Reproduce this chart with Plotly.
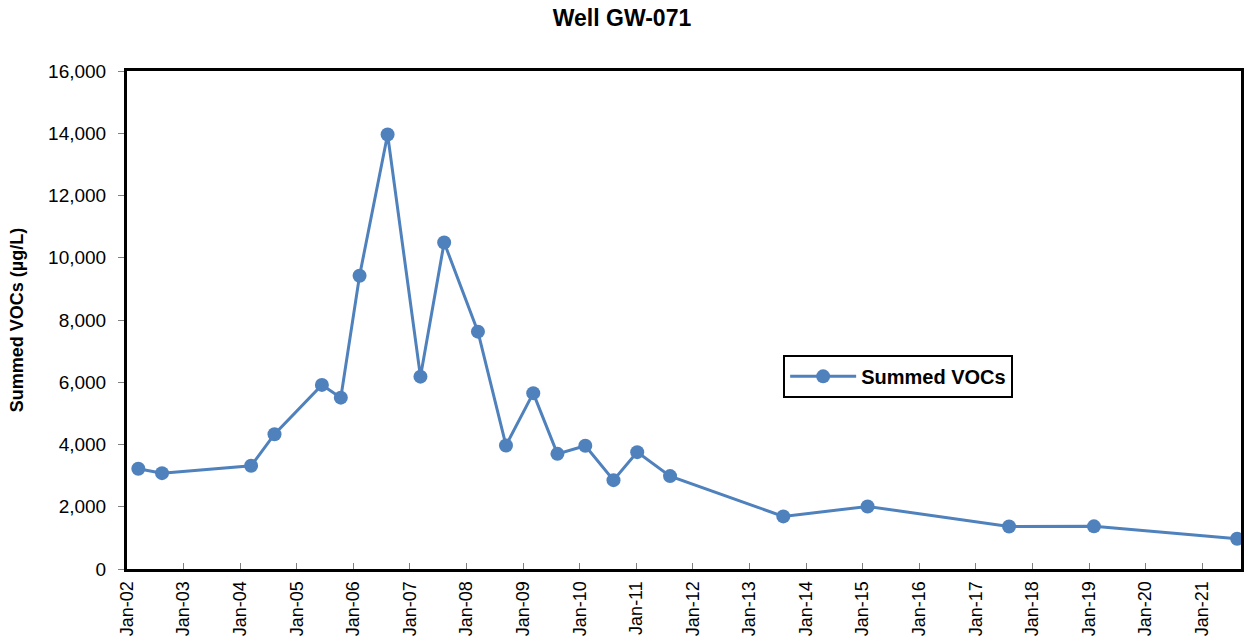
import plotly.graph_objects as go

# Sampling dates and summed VOC concentrations (µg/L) for well GW-071
sample_dates = [
    "2002-03-15", "2002-08-15", "2004-03-12", "2004-08-10", "2005-06-12",
    "2005-10-12", "2006-02-10", "2006-08-10", "2007-03-10", "2007-08-10",
    "2008-03-15", "2008-09-12", "2009-03-07", "2009-08-10", "2010-02-06",
    "2010-08-07", "2011-01-07", "2011-08-07", "2013-08-07", "2015-02-02",
    "2017-08-03", "2019-02-02", "2021-08-14",
]
summed_vocs = [
    3220, 3080, 3315, 4330, 5915,
    5505, 9420, 13960, 6180, 10490,
    7625, 3970, 5650, 3700, 3960,
    2855, 3755, 2985, 1690, 2010,
    1365, 1370, 970,
]

y_ticks = list(range(0, 16001, 2000))
y_tick_labels = [f"{v:,}" for v in y_ticks]

BLUE = "#4F81BD"
FONT = "Liberation Sans, Arial, sans-serif"

fig = go.Figure()
fig.add_trace(go.Scatter(
    x=sample_dates,
    y=summed_vocs,
    mode="lines+markers",
    name="<b>Summed VOCs</b>",
    line=dict(color=BLUE, width=3),
    marker=dict(color=BLUE, size=14),
    cliponaxis=False,
))

fig.update_layout(
    width=1244,
    height=642,
    margin=dict(l=127, r=3, t=71, b=73),
    paper_bgcolor="white",
    plot_bgcolor="white",
    font=dict(family=FONT, size=19, color="black"),
    title=dict(
        text="<b>Well GW-071</b>",
        x=0.5, xanchor="center",
        y=0.972, yanchor="middle",
        font=dict(size=23, family=FONT, color="black"),
    ),
    showlegend=True,
    legend=dict(
        x=0.589, xanchor="left",
        y=0.43, yanchor="top",
        bordercolor="black",
        borderwidth=2,
        bgcolor="white",
        font=dict(size=20, family=FONT, color="black"),
        itemwidth=66,
    ),
    xaxis=dict(
        type="date",
        range=["2002-01-01", "2021-09-08"],
        dtick="M12",
        tick0="2002-01-01",
        tickformat="%b-%y",
        tickangle=-90,
        ticks="inside",
        ticklen=6,
        tickcolor="#808080",
        ticklabelstandoff=2,
        showline=True,
        linecolor="black",
        linewidth=3,
        mirror=True,
        showgrid=False,
        zeroline=False,
        automargin=False,
        tickfont=dict(size=18),
    ),
    yaxis=dict(
        range=[0, 16000],
        tickvals=y_ticks,
        ticktext=y_tick_labels,
        ticks="outside",
        ticklen=6,
        tickcolor="#808080",
        ticklabelstandoff=8,
        showline=True,
        linecolor="black",
        linewidth=3,
        mirror=True,
        showgrid=False,
        zeroline=False,
        automargin=False,
        tickfont=dict(size=19),
        title=dict(text="<b>Summed VOCs (µg/L)</b>", font=dict(size=18), standoff=20),
    ),
)

fig.write_html("out.html")
